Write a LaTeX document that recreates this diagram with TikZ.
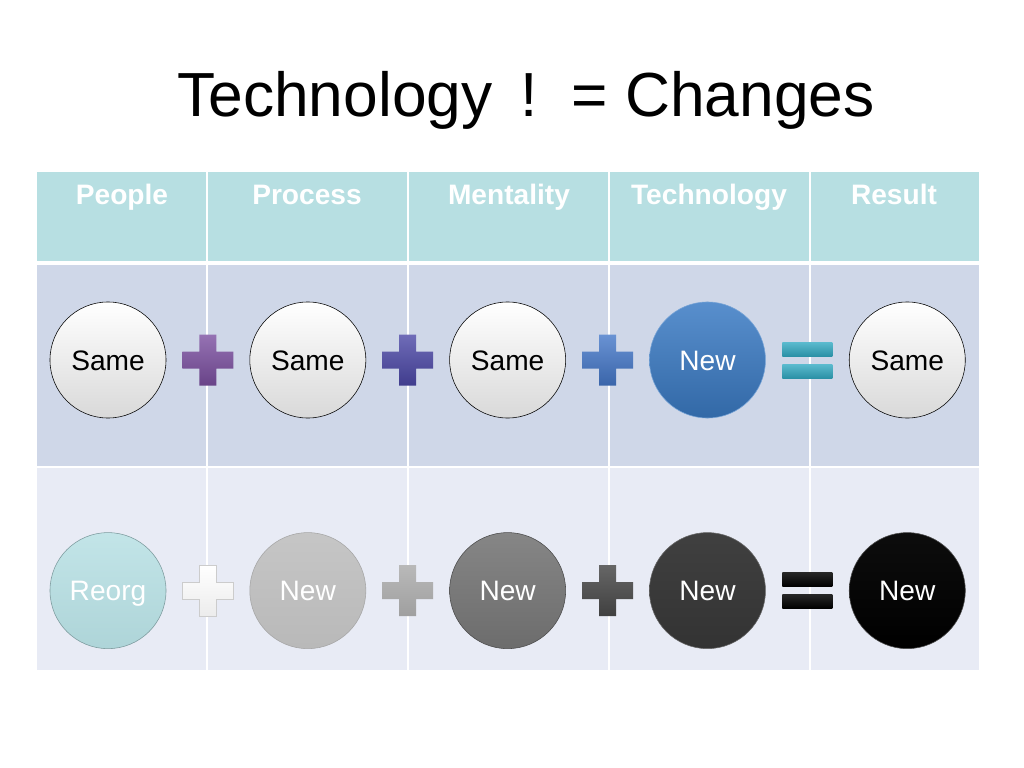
\documentclass[tikz,border=0pt]{standalone}
\usepackage{fontspec}
\setmainfont{Liberation Sans}
\usepackage{xcolor}
\usetikzlibrary{positioning, calc}

\definecolor{headfill}{HTML}{B7DFE2}
\definecolor{rowtwo}{HTML}{CFD7E8}
\definecolor{rowthree}{HTML}{E8EBF5}
\definecolor{plusviolet}{HTML}{7B4FA0}
\definecolor{plusindigo}{HTML}{4B47A6}
\definecolor{plusblue}{HTML}{4477C8}
\definecolor{eqteal}{HTML}{33AAC3}
\definecolor{newblue}{HTML}{3B7BC4}
\definecolor{reorgteal}{HTML}{B3DEE2}

\begin{document}
\begin{tikzpicture}[
    x=0.025cm, y=-0.025cm,
    node distance=2.85cm and 2.08cm,
    circ/.style={circle, minimum size=2.9cm, inner sep=0pt, text height=14.4pt, text depth=0pt, font=\fontsize{20}{22}\selectfont},
    same/.style={circ, draw=black, thin, top color=white, bottom color=gray!30},
    newball/.style={circ, draw=#1!70!white, thin, top color=#1!85!white, bottom color=#1!85!black, text=white},
    head/.style={anchor=base, text=white, font=\bfseries\fontsize{20}{22}\selectfont},
    plussign/.pic={
      \path[pic actions] (-8.5,-25.5) -- (8.5,-25.5) -- (8.5,-8.5) -- (25.5,-8.5) -- (25.5,8.5)
        -- (8.5,8.5) -- (8.5,25.5) -- (-8.5,25.5) -- (-8.5,8.5) -- (-25.5,8.5) -- (-25.5,-8.5)
        -- (-8.5,-8.5) -- cycle;
    },
    equalsign/.pic={
      \path[pic actions] (-25,-18) rectangle (25,-4);
      \path[pic actions] (-25,4) rectangle (25,18);
    }
]
\useasboundingbox[fill=white] (0,0) rectangle (1024,768);

% title
\node[anchor=base, font=\fontsize{44.3}{50}\selectfont] (title) at (526,117)
  {Technology\hspace{20pt}!\hspace{24pt}= Changes};

% table background
\fill[headfill] (37,172) rectangle (979,263);
\fill[rowtwo] (37,263) rectangle (979,467);
\fill[rowthree] (37,467) rectangle (979,670);
\draw[white, line width=2.5pt] (37,263) -- (979,263);
\draw[white, line width=1pt] (37,467) -- (979,467);
\foreach \xcol in {207,408,609,810}
  \draw[white, line width=1pt] (\xcol,172) -- (\xcol,670);

% column heads
\node[head] (hpeople) at (122,204) {People};
\node[head] (hprocess) at (307,204) {Process};
\node[head] (hmental) at (509,204) {Mentality};
\node[head] (htech) at (709,204) {Technology};
\node[head] (hresult) at (894,204) {Result};

% first row
\node[same] (s1) at (108,360) {Same};
\node[same, right=of s1] (s2) {Same};
\node[same, right=of s2] (s3) {Same};
\node[newball=newblue, right=of s3] (s4) {New};
\node[same, right=of s4] (s5) {Same};

% second row
\node[newball=reorgteal, below=of s1, top color=reorgteal!80!white, bottom color=reorgteal!90!gray, draw=reorgteal!70!black] (n1) {Reorg};
\node[newball=gray, below=of s2, top color=gray!45, bottom color=gray!55, draw=gray!70] (n2) {New};
\node[newball=gray, below=of s3, top color=gray!95!white, bottom color=gray!85!black, draw=gray!60!black] (n3) {New};
\node[newball=black, below=of s4, top color=black!75, bottom color=black!80, draw=black!60] (n4) {New};
\node[newball=black, below=of s5, top color=black!95, bottom color=black, draw=black!70] (n5) {New};

% operators
\pic[top color=plusviolet!80!white, bottom color=plusviolet!85!black] at ($(s1)!0.5!(s2)$) {plussign};
\pic[top color=plusindigo!80!white, bottom color=plusindigo!85!black] at ($(s2)!0.5!(s3)$) {plussign};
\pic[top color=plusblue!80!white, bottom color=plusblue!85!black] at ($(s3)!0.5!(s4)$) {plussign};
\pic[top color=eqteal!80!white, bottom color=eqteal!85!black] at ($(s4)!0.5!(s5)$) {equalsign};

\pic[top color=white, bottom color=gray!15, draw=gray!40] at ($(n1)!0.5!(n2)$) {plussign};
\pic[top color=gray!55, bottom color=gray!75] at ($(n2)!0.5!(n3)$) {plussign};
\pic[top color=black!60, bottom color=black!75] at ($(n3)!0.5!(n4)$) {plussign};
\pic[top color=black!85, bottom color=black] at ($(n4)!0.5!(n5)$) {equalsign};
\end{tikzpicture}
\end{document}
